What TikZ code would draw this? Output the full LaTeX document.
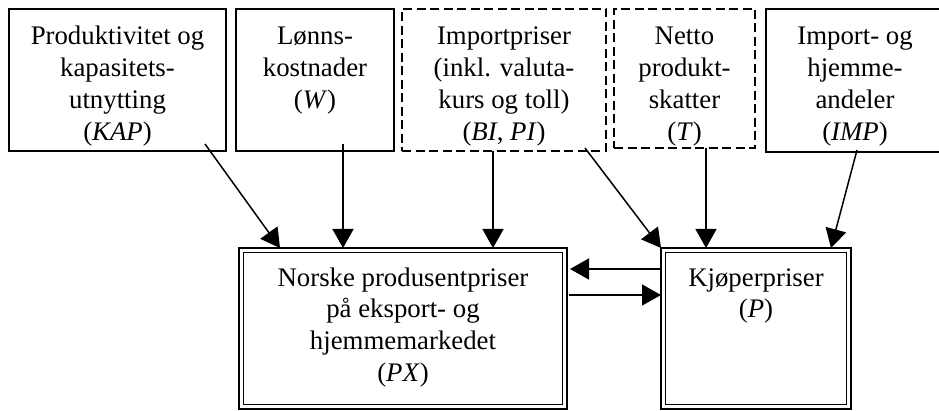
\documentclass[tikz,border=0pt]{standalone}
\usepackage{fontspec}
\setmainfont{Liberation Serif}
\usetikzlibrary{arrows.meta}
\newcommand\boxlines[2]{\parbox[t]{#1}{\centering #2}}
\begin{document}
\begin{tikzpicture}[x=1pt,y=1pt,
  box/.style={draw, line width=1.4pt, inner sep=0pt, outer sep=0pt},
  dbox/.style={draw, line width=1.5pt, dash pattern=on 9pt off 4.5pt, inner sep=0pt, outer sep=0pt},
  mainbox/.style={draw, line width=2pt, inner sep=0pt, outer sep=0pt},
  lbl/.style={inner sep=0pt, outer sep=0pt, anchor=base, font=\fontsize{26.8}{31.7}\selectfont},
  arr/.style={line width=1.5pt, -{Triangle[length=19pt,width=21pt]}}]
\useasboundingbox (0,0) rectangle (939,410);

% upper row of driver boxes
\node[box,  minimum width=217pt, minimum height=142pt] (kap) at (117.5,330) {};
\node[box,  minimum width=158pt, minimum height=142pt] (w)   at (315,330) {};
\node[dbox, minimum width=204pt, minimum height=142pt] (bi)  at (504,330) {};
\node[dbox, minimum width=141pt, minimum height=139pt] (t)   at (684.5,331.5) {};
\node[box,  minimum width=178pt, minimum height=143pt] (imp) at (855,329.5) {};

% price blocks
\node[mainbox, minimum width=328pt, minimum height=161pt] (px) at (403,81.5) {};
\node[mainbox, minimum width=190pt, minimum height=161pt] (p)  at (756,81.5) {};
\draw[line width=1.4pt] ([shift={(4.3,-4.3)}]px.north west) rectangle ([shift={(-4.3,4.3)}]px.south east);
\draw[line width=1.4pt] ([shift={(4.3,-4.3)}]p.north west) rectangle ([shift={(-4.3,4.3)}]p.south east);

% texts
\node[lbl] (kapt) at ([yshift=-36]kap.north) {\boxlines{217pt}{Produktivitet og\\kapasitets-\\utnytting\\(\textit{KAP})}};
\node[lbl] (wt)   at ([yshift=-36]w.north)   {\boxlines{158pt}{Lønns-\\kostnader\\(\textit{W})}};
\node[lbl] (bit)  at ([yshift=-36]bi.north)  {\boxlines{204pt}{Importpriser\\(inkl. valuta-\\kurs og toll)\\(\textit{BI}, \textit{PI})}};
\node[lbl] (tt)   at ([yshift=-36]t.north)   {\boxlines{141pt}{Netto\\produkt-\\skatter\\(\textit{T})}};
\node[lbl] (impt) at ([yshift=-36]imp.north) {\boxlines{178pt}{Import- og\\hjemme-\\andeler\\(\textit{IMP})}};
\node[lbl] (pxt)  at ([yshift=-38]px.north)  {\boxlines{328pt}{Norske produsentpriser\\på eksport- og\\hjemmemarkedet\\(\textit{PX})}};
\node[lbl] (pt)   at ([yshift=-38]p.north)   {\boxlines{190pt}{Kjøperpriser\\(\textit{P})}};

% influences
\draw[arr] ([shift={(-21,7)}]kap.south east) -- ([xshift=41]px.north west);
\draw[arr] ([shift={(28,7)}]w.south) -- ([xshift=28]w.south |- px.north);
\draw[arr] ([xshift=-11]bi.south) -- ([xshift=-11]bi.south |- px.north);
\draw[arr] ([shift={(-21,3)}]bi.south east) -- (p.north west);
\draw[arr] ([xshift=21.5]t.south) -- ([xshift=21.5]t.south |- p.north);
\draw[arr] ([shift={(2,2)}]imp.south) -- ([xshift=-20]p.north east);
\draw[arr] ([yshift=-21]p.north west) -- ([shift={(3,-21)}]px.north east);
\draw[arr] ([shift={(2,-47)}]px.north east) -- ([yshift=-47]p.north west);
\end{tikzpicture}
\end{document}
